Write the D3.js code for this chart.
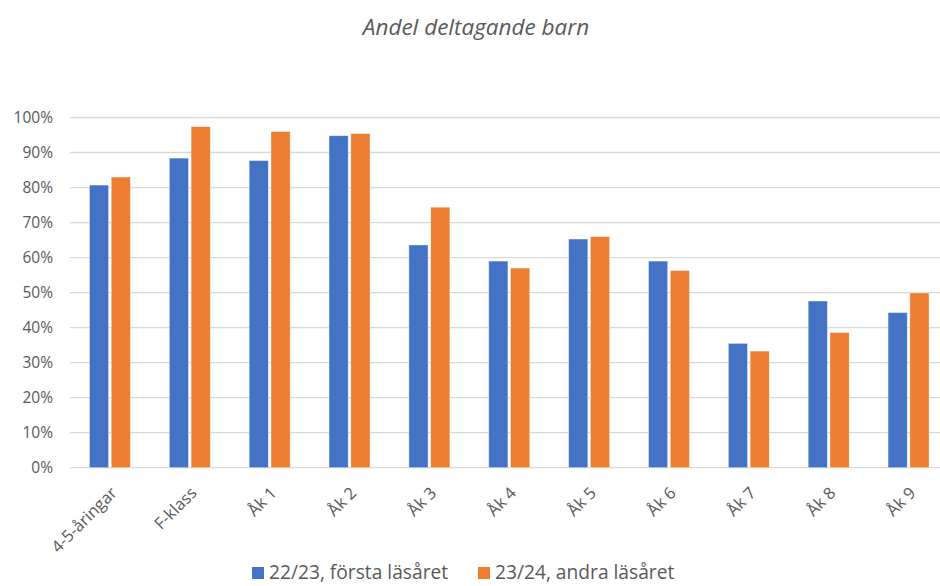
<!DOCTYPE html>
<html><head><meta charset="utf-8">
<script src="https://cdn.jsdelivr.net/npm/d3@7"></script>
<style>body{margin:0;background:#fff}svg{display:block}text{font-family:"Open Sans",sans-serif;fill:#595959}</style>
</head><body><svg id="c" width="940" height="586"></svg>
<script>
const categories = ["4-5-åringar","F-klass","Åk 1","Åk 2","Åk 3","Åk 4","Åk 5","Åk 6","Åk 7","Åk 8","Åk 9"];
const seriesNames = ["22/23, första läsåret","23/24, andra läsåret"];
const values2223 = [80.7, 88.4, 87.7, 94.8, 63.6, 59.0, 65.3, 59.0, 35.5, 47.6, 44.3];
const values2324 = [83.0, 97.4, 96.0, 95.4, 74.4, 57.0, 66.0, 56.3, 33.3, 38.6, 49.9];
const yTicks = [0,10,20,30,40,50,60,70,80,90,100];
const colors = ["#4472C4","#ED7D31"];
const title = "Andel deltagande barn";

const svg = d3.select("#c");
const x = d3.scaleBand().domain(categories).range([70, 948.5]).padding(0);
const y = d3.scaleLinear().domain([0,100]).range([467.7, 117.5]);
const x1 = d3.scaleBand().domain(seriesNames).range([-20.5, 20.5]).paddingInner(0.12);

svg.append("text").attr("x",476).attr("y",35).attr("text-anchor","middle")
  .attr("font-style","italic").attr("font-size",22.5).text(title);

const gy = svg.append("g");
gy.selectAll("line").data(yTicks).join("line")
  .attr("x1",70).attr("x2",940).attr("y1",d=>y(d)).attr("y2",d=>y(d))
  .attr("stroke","#D9D9D9").attr("stroke-width",1.3);
gy.selectAll("text").data(yTicks).join("text")
  .attr("x",53).attr("y",d=>y(d)).attr("dy","0.36em").attr("text-anchor","end")
  .attr("font-size",15.5).text(d=>d+"%");

const series = [values2223, values2324];
const data = [];
categories.forEach((c,i)=>seriesNames.forEach((s,j)=>data.push({c,s,v:series[j][i],j})));
svg.append("g").selectAll("rect").data(data).join("rect")
  .attr("x",d=>x(d.c)+x.bandwidth()/2+x1(d.s))
  .attr("width",x1.bandwidth())
  .attr("y",d=>y(d.v)).attr("height",d=>y(0)-y(d.v))
  .attr("fill",d=>colors[d.j]).attr("stroke","#fff").attr("stroke-opacity",0.5).attr("stroke-width",0.8);

svg.append("g").selectAll("text").data(categories).join("text")
  .attr("transform",d=>`translate(${x(d)+x.bandwidth()/2+8},494) rotate(-45)`)
  .attr("text-anchor","end").attr("font-size",16.5).text(d=>d);

const lg = svg.append("g");
const items = [{n:seriesNames[0],c:colors[0],x:252},{n:seriesNames[1],c:colors[1],x:478}];
items.forEach(it=>{
  lg.append("rect").attr("x",it.x).attr("y",567).attr("width",12).attr("height",12).attr("fill",it.c);
  lg.append("text").attr("x",it.x+17).attr("y",579).attr("font-size",19.2).text(it.n);
});
</script></body></html>
